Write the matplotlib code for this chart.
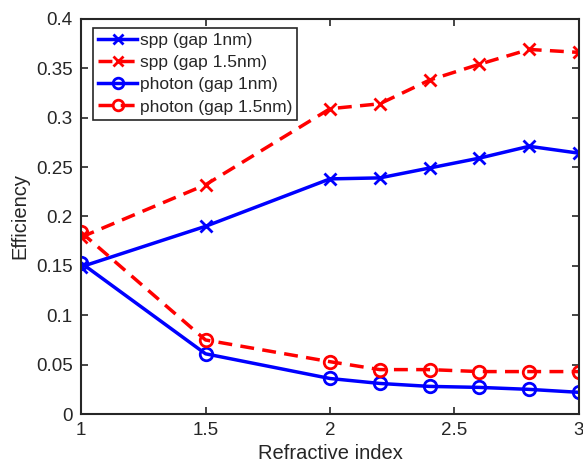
import matplotlib
matplotlib.use("Agg")
import matplotlib.pyplot as plt

plt.rcParams['font.family'] = ['Liberation Sans', 'DejaVu Sans']
INK = '#262626'
plt.rcParams['text.color'] = INK
plt.rcParams['axes.labelcolor'] = INK
plt.rcParams['xtick.color'] = INK
plt.rcParams['ytick.color'] = INK

# Refractive index sweep
n_index = [1.0, 1.5, 2.0, 2.2, 2.4, 2.6, 2.8, 3.0]

spp_gap1 = [0.149, 0.190, 0.238, 0.239, 0.249, 0.259, 0.271, 0.264]
spp_gap15 = [0.179, 0.232, 0.309, 0.314, 0.338, 0.354, 0.369, 0.366]
photon_gap1 = [0.153, 0.061, 0.036, 0.031, 0.028, 0.027, 0.025, 0.022]
photon_gap15 = [0.184, 0.075, 0.053, 0.045, 0.045, 0.043, 0.043, 0.043]

labels = ['spp (gap 1nm)', 'spp (gap 1.5nm)', 'photon (gap 1nm)', 'photon (gap 1.5nm)']
x_ticks = [1, 1.5, 2, 2.5, 3]
y_ticks = [0, 0.05, 0.1, 0.15, 0.2, 0.25, 0.3, 0.35, 0.4]
y_ticklabels = ['0', '0.05', '0.1', '0.15', '0.2', '0.25', '0.3', '0.35', '0.4']
x_ticklabels = ['1', '1.5', '2', '2.5', '3']

fig = plt.figure(figsize=(5.83, 4.70), dpi=100)
ax = fig.add_axes([0.139, 0.119, 0.854, 0.841])

lw = 2.5
dash = (0, (4.0, 2.4))
ax.plot(n_index, spp_gap1, color='#0000ff', lw=lw, marker='x', ms=9, mew=2.0, label=labels[0])
ax.plot(n_index, spp_gap15, color='#ff0000', lw=lw, ls=dash, marker='x', ms=9, mew=2.0, label=labels[1])
ax.plot(n_index, photon_gap1, color='#0000ff', lw=lw, marker='o', ms=9, mew=2.0, mfc='none', label=labels[2])
ax.plot(n_index, photon_gap15, color='#ff0000', lw=lw, ls=dash, marker='o', ms=9, mew=2.0, mfc='none', label=labels[3])

ax.set_xlim(1, 3)
ax.set_ylim(0, 0.4)
ax.set_xticks(x_ticks)
ax.set_xticklabels(x_ticklabels)
ax.set_yticks(y_ticks)
ax.set_yticklabels(y_ticklabels)
ax.tick_params(direction='in', top=True, right=True, length=5, width=1.2, labelsize=13.5, pad=6)
for s in ax.spines.values():
    s.set_linewidth(1.5)
    s.set_color(INK)

ax.set_xlabel('Refractive index', fontsize=14.5, labelpad=3)
ax.set_ylabel('Efficiency', fontsize=14.5, labelpad=5)

leg = ax.legend(loc='upper left', bbox_to_anchor=(0.024, 0.977), borderaxespad=0,
                fontsize=12.5, frameon=True, fancybox=False,
                edgecolor=INK, framealpha=1, handlelength=2.25, handletextpad=0.15,
                borderpad=0.3, labelspacing=0.4, markerscale=0.85)
leg.get_frame().set_linewidth(1.2)

fig.savefig('out.png', dpi=100)
